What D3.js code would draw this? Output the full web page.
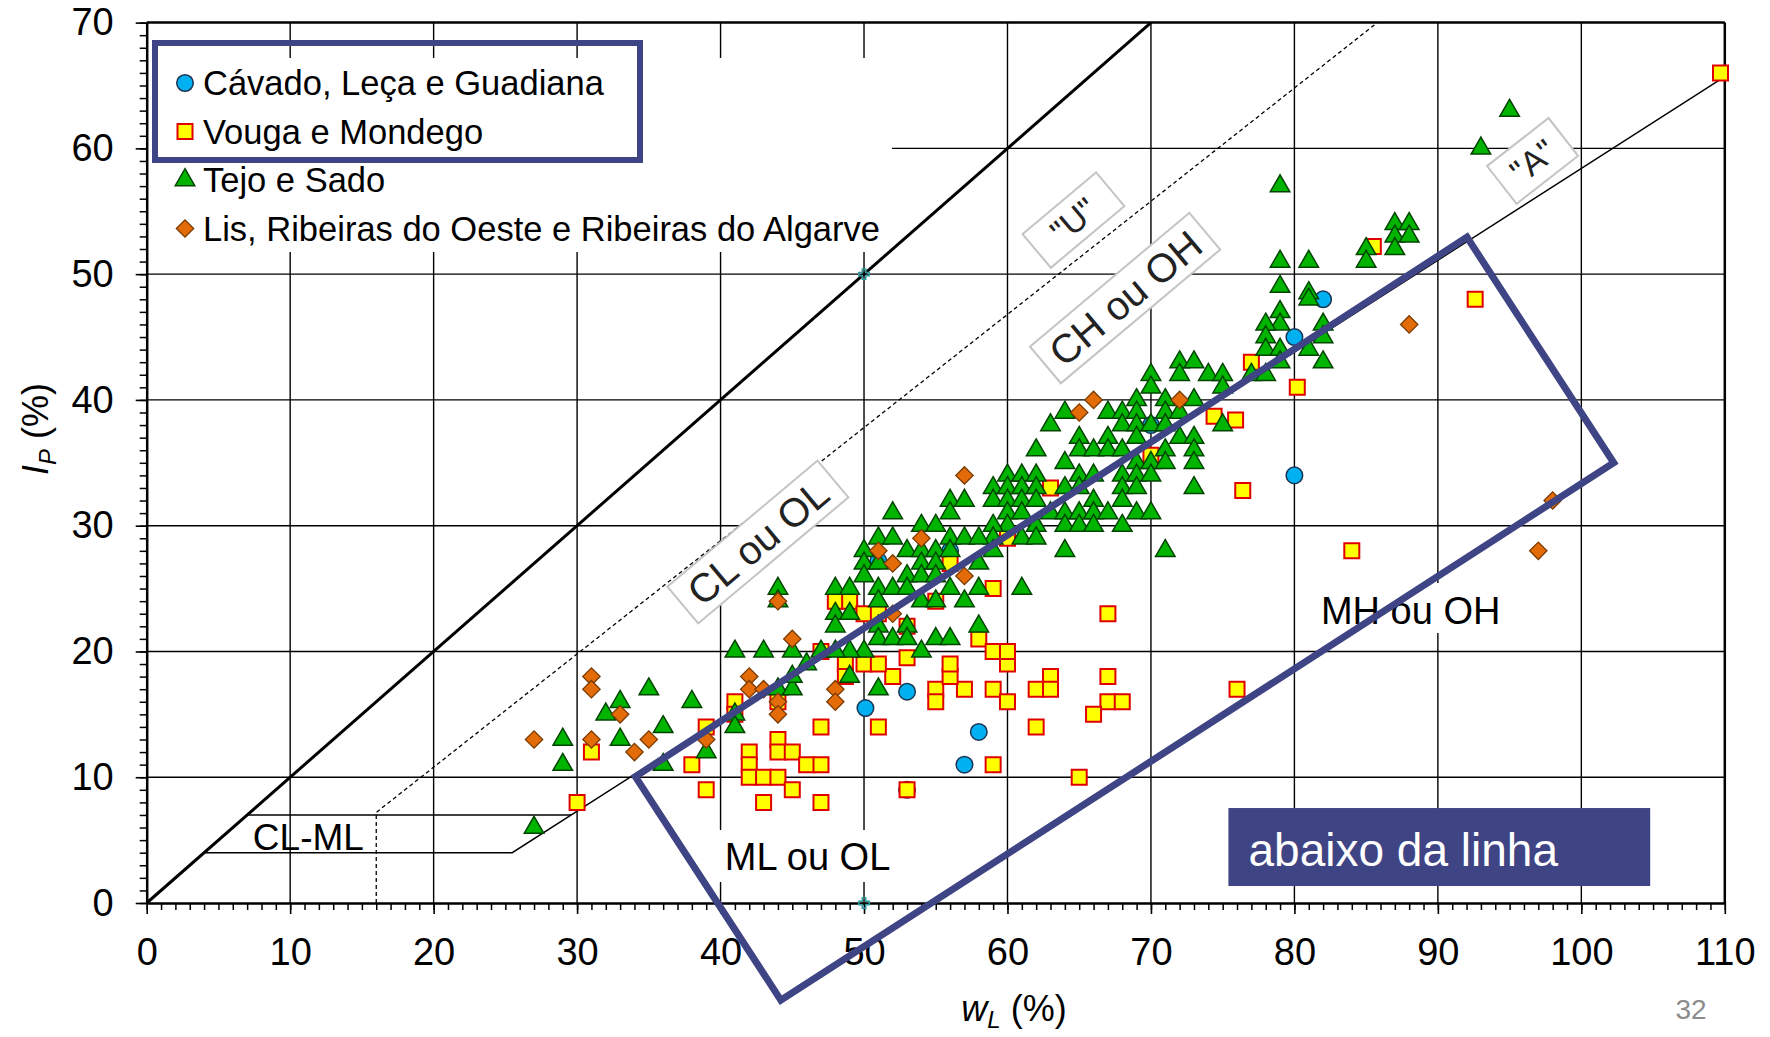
<!DOCTYPE html>
<html>
<head>
<meta charset="utf-8">
<script src="https://cdnjs.cloudflare.com/ajax/libs/d3/7.8.5/d3.min.js"></script>
<style>
  body { margin: 0; background: #fff; }
  svg { display: block; font-family: "Liberation Sans", Arial, sans-serif; }
</style>
</head>
<body>
<div id="chart"></div>
<script>
// series names, legend order
const seriesNames = ["Cávado, Leça e Guadiana", "Vouga e Mondego", "Tejo e Sado",
  "Lis, Ribeiras do Oeste e Ribeiras do Algarve"];

// [wL, IP] pairs
const cavado = [[50.1,15.5],[53,16.8],[58,13.6],[57,11],[53,9],[51,27.2],[56,28],[70,38],[80,45],[82,48],[80,34]];

const vouga = [[30,8],[31,12],[38,11],[39,14],[39,9],[41,16],[41,15],[42,12],[42,11],[42,10],[43,10],[44,13],
  [44,12],[44,10],[43,8],[45,12],[45,9],[46,11],[44,16],
  [47,14],[51,14],[47,11],[53,9],[59,11],[55,17],[55,16],[57,17],[59,17],[60,16],[52,18],[56,18],[56,19],
  [60,19],[50,19],[51,19],[53,19.5],[48.7,19],[48.7,18],[47,8],
  [59,25],[48,24],[49,24],[50,23],[51,23],[56,27],[53,22],[58,21],[59,20],[60,20],[47,20],[60,29],[55,24],
  [63,33],[70,35.6],[74.4,38.7],[75.9,38.4],[76.4,32.8],
  [67,23],[63,18],[62,17],[63,17],[67,18],[67,16],[68,16],[66,15],[62,14],[65,10],[76,17],
  [85.5,52.2],[92.6,48],[77,43],[80.2,41],[84,28],[109.7,66]];

const tejo = [[27,6],[29,11],[29,13],[32,15],[33,16],[33,13],[35,17],[36,14],[36,11],[38,16],[39,12],[41,20],
  [43,20],[41,15],[41,14],[44,25],[44,24],[44,17],[45,17],[45,18],[45,20],[46,19],[47,20],
  [52,31],[56,32],[57,32],[56,31],[59,33],[59,32],[60,34],[60,33],[60,32],[60,31],[60,30],[59,30],[59,29],
  [59,28],[54,30],[55,30],[51,29],[52,29],[53,28],[54,28],[55,28],[56,29],[57,29],[58,29],[56,28],[50,28],
  [50,27],[50,26],[51,27],[53,26],[54,27],[54,26],[55,27],[55,26],[58,27],[48,25],[49,25],[48,23],[49,23],
  [48,22],[51,25],[52,25],[53,25],[51,24],[54,24],[55,24],[56,25],[57,24],[58,25],[50,20],[49,20],[48,20],
  [51,22],[51,21],[52,21],[53,22],[53,21],[54,20],[55,21],[56,21],[58,22],[61,25],[51,17],[49,18],
  [72,43],[73,43],[70,42],[72,42],[74,42],[75,42],[70,41],[75,41],[69,40],[71,40],[73,40],[64,39],[67,39],
  [68,39],[69,39],[71,39],[72,39],[63,38],[68,38],[69,38],[70,38],[71,38],[75,38],[65,37],[67,37],[69,37],
  [72,37],[73,37],[62,36],[65,36],[66,36],[67,36],[68,36],[71,36],[73,36],[64,35],[69,35],[70,35],[71,35],
  [73,35],[61,34],[62,34],[65,34],[66,34],[68,34],[69,34],[70,34],[61,33],[62,33],[64,33],[65,33],[68,33],
  [69,33],[73,33],[61,32],[62,32],[66,32],[68,32],[61,31],[63,31],[64,31],[65,31],[66,31],[67,31],[69,31],
  [70,31],[62,30],[64,30],[65,30],[66,30],[68,30],[61,29],[62,29],[64,28],[71,28],
  [95,63],[93,60],[79,57],[87,54],[88,54],[87,53],[88,53],[87,52],[85,52],[85,51],[79,51],[81,51],[79,49],
  [81,48.5],[81,48],[79,47],[79,46],[78,46],[78,45],[82,46],[82,45],[78,44],[79,44],[81,44],[79,43],[82,43],
  [77,42],[78,42]];

const lis = [[27,13],[31,18],[31,17],[31,13],[33,15],[34,12],[35,13],[39,13],[42,18],[42,17],[43,17],[44,16],
  [44,15],[44,24],[45,21],[48,17],[48,16],[57,34],[54,29],[51,28],[52,27],[57,26],[52,23],[66,40],[65,39],
  [72,40],[88,46],[98,32],[97,28]];

const xTicks = d3.range(0, 111, 10);
const yTicks = d3.range(0, 71, 10);

const W = 1770, H = 1037;
const navy = "#3f4484";
const font = '"Liberation Sans", Arial, sans-serif';

const svg = d3.select('#chart').append('svg').attr('width', W).attr('height', H);
const x = d3.scaleLinear().domain([0, 110]).range([146.7, 1724.8]);
const y = d3.scaleLinear().domain([0, 70]).range([903, 22.6]);

// grid
const grid = svg.append('g').attr('stroke', '#000').attr('stroke-width', 1.4);
grid.selectAll('line.v').data(xTicks.filter(d => d > 0)).enter().append('line')
  .attr('x1', d => x(d)).attr('x2', d => x(d)).attr('y1', y(0)).attr('y2', y(70))
  .attr('stroke-width', d => d == 110 ? 2.5 : 1.4);
grid.selectAll('line.h').data(yTicks.filter(d => d > 0)).enter().append('line')
  .attr('y1', d => y(d)).attr('y2', d => y(d)).attr('x1', x(0)).attr('x2', x(110))
  .attr('stroke-width', d => d == 70 ? 2.5 : 1.4);

// white backgrounds hiding grid (legend and region labels)
svg.append('rect').attr('x', 148).attr('y', 58).attr('width', 744).attr('height', 194).attr('fill', '#fff');
svg.append('rect').attr('x', x(39.3)).attr('y', 830).attr('width', 186).attr('height', 52).attr('fill', '#fff');
svg.append('rect').attr('x', x(81.2)).attr('y', 583).attr('width', 200).attr('height', 50).attr('fill', '#fff');

// classification lines
const line = d3.line().x(d => x(d[0])).y(d => y(d[1]));
svg.append('path').attr('d', line([[0,0],[70,70]])).attr('stroke', '#000').attr('stroke-width', 3).attr('fill', 'none');
svg.append('path').attr('d', line([[16,0],[16,7.2],[8 + 70/0.9, 70]]))
  .attr('stroke', '#000').attr('stroke-width', 1.3).attr('stroke-dasharray', '4,3').attr('fill', 'none');
svg.append('path').attr('d', line([[4,4],[20 + 4/0.73, 4],[110, 0.73*90]]))
  .attr('stroke', '#000').attr('stroke-width', 1.4).attr('fill', 'none');
svg.append('path').attr('d', line([[7,7],[20 + 7/0.73, 7]]))
  .attr('stroke', '#000').attr('stroke-width', 1.4).attr('fill', 'none');

// axes
function styleAxis(g) {
  g.selectAll('text').attr('font-size', 38).attr('font-family', font).attr('fill', '#000');
  g.selectAll('line').attr('stroke', '#000').attr('stroke-width', 1.6);
  g.select('.domain').attr('stroke', '#000').attr('stroke-width', 2.5);
}
svg.append('g').attr('transform', 'translate(0,' + y(0) + ')')
  .call(d3.axisBottom(x).tickValues(d3.range(0, 111, 1)).tickSize(7).tickFormat(''))
  .call(g => { g.select('.domain').remove(); g.selectAll('line').attr('stroke-width', 1.5); });
svg.append('g').attr('transform', 'translate(0,' + y(0) + ')')
  .call(d3.axisBottom(x).tickValues(xTicks).tickSize(11).tickSizeOuter(0).tickPadding(24))
  .call(styleAxis);
svg.append('g').attr('transform', 'translate(' + x(0) + ',0)')
  .call(d3.axisLeft(y).tickValues(d3.range(0, 71, 1)).tickSize(7).tickFormat(''))
  .call(g => { g.select('.domain').remove(); g.selectAll('line').attr('stroke-width', 1.5); });
svg.append('g').attr('transform', 'translate(' + x(0) + ',0)')
  .call(d3.axisLeft(y).tickValues(yTicks).tickSize(11).tickSizeOuter(0).tickPadding(22))
  .call(styleAxis);

// series markers
const styles = [
  { data: cavado, type: d3.symbolCircle, size: 215, fill: '#00b0f0', stroke: '#1b3553', sw: 1.5, rot: 0 },
  { data: vouga, type: d3.symbolSquare, size: 225, fill: '#ffff00', stroke: '#e00000', sw: 2, rot: 0 },
  { data: tejo, type: d3.symbolTriangle, size: 165, fill: '#00b400', stroke: '#004400', sw: 1.5, rot: 0 },
  { data: lis, type: d3.symbolSquare, size: 150, fill: '#e36c09', stroke: '#7a3b00', sw: 1.3, rot: 45 }
];
styles.forEach(s => {
  svg.append('g').selectAll('path').data(s.data).enter().append('path')
    .attr('d', d3.symbol().type(s.type).size(s.size))
    .attr('transform', d => 'translate(' + x(d[0]) + ',' + y(d[1]) + ') rotate(' + s.rot + ')')
    .attr('fill', s.fill).attr('stroke', s.stroke).attr('stroke-width', s.sw);
});

// boxed region labels
const boxLabels = [
  { t: 'CL ou OL', at: [42.6, 28.7], w: 196, h: 48, fs: 40, a: -40 },
  { t: '"U"', at: [64.6, 54.3], w: 96, h: 44, fs: 34, a: -40 },
  { t: 'CH ou OH', at: [68.2, 48.1], w: 208, h: 48, fs: 40, a: -40 },
  { t: '"A"', at: [96.6, 59.0], w: 78, h: 48, fs: 34, a: -38 }
];
boxLabels.forEach(b => {
  let g = svg.append('g').attr('transform', 'translate(' + x(b.at[0]) + ',' + y(b.at[1]) + ') rotate(' + b.a + ')');
  g.append('rect').attr('x', -b.w/2).attr('y', -b.h/2).attr('width', b.w).attr('height', b.h)
    .attr('fill', '#fff').attr('stroke', '#c4c4c4').attr('stroke-width', 2);
  g.append('text').attr('text-anchor', 'middle').attr('dy', '0.36em').attr('font-size', b.fs)
    .attr('fill', '#222').text(b.t);
});

// plain region labels
svg.append('text').attr('x', x(7.4)).attr('y', 850).attr('font-size', 37).text('CL-ML');
svg.append('text').attr('x', x(40.3)).attr('y', 870).attr('font-size', 38).text('ML ou OL');
svg.append('text').attr('x', x(81.85)).attr('y', 624).attr('font-size', 38).text('MH ou OH');

// small teal crosses
[[50,50],[50,0]].forEach(p => {
  svg.append('path').attr('d', d3.symbol().type(d3.symbolCross).size(60)())
    .attr('transform', 'translate(' + x(p[0]) + ',' + y(p[1]) + ')')
    .attr('fill', 'none').attr('stroke', '#2e9c9c').attr('stroke-width', 1.5);
});

// legend
const leg = svg.append('g');
seriesNames.forEach((n, i) => {
  let s = styles[i], cy = 83 + i * 48.5;
  leg.append('path').attr('d', d3.symbol().type(s.type).size(s.size)())
    .attr('transform', 'translate(185,' + cy + ') rotate(' + s.rot + ')')
    .attr('fill', s.fill).attr('stroke', s.stroke).attr('stroke-width', s.sw);
  leg.append('text').attr('x', 203).attr('y', cy + 12).attr('font-size', 34.5).text(n);
});
leg.append('rect').attr('x', 155).attr('y', 43).attr('width', 485).attr('height', 117)
  .attr('fill', 'none').attr('stroke', navy).attr('stroke-width', 6);

// highlighted zone
svg.append('path').attr('d', line([[34.06,10.05],[92.03,52.94],[102.26,35.0],[44.2,-7.72]]) + 'Z')
  .attr('fill', 'none').attr('stroke', navy).attr('stroke-width', 7).attr('stroke-linejoin', 'miter');

svg.append('rect').attr('x', x(75.4)).attr('y', y(7.55)).attr('width', x(104.8) - x(75.4)).attr('height', y(1.35) - y(7.55))
  .attr('fill', navy);
svg.append('text').attr('x', x(76.8)).attr('y', 866).attr('font-size', 46).attr('fill', '#fff').text('abaixo da linha');

// axis titles
let xt = svg.append('text').attr('x', 1014).attr('y', 1021).attr('text-anchor', 'middle').attr('font-size', 36);
xt.append('tspan').attr('font-style', 'italic').text('w');
xt.append('tspan').attr('font-style', 'italic').attr('font-size', 24).attr('dy', 7).text('L');
xt.append('tspan').attr('dy', -7).text(' (%)');

let yt = svg.append('text').attr('transform', 'translate(48,429) rotate(-90)').attr('text-anchor', 'middle').attr('font-size', 36);
yt.append('tspan').attr('font-style', 'italic').text('I');
yt.append('tspan').attr('font-style', 'italic').attr('font-size', 24).attr('dy', 8).text('P');
yt.append('tspan').attr('dy', -8).text(' (%)');

svg.append('text').attr('x', 1691).attr('y', 1019).attr('text-anchor', 'middle').attr('font-size', 28)
  .attr('fill', '#8c8c8c').text('32');
</script>
</body>
</html>
